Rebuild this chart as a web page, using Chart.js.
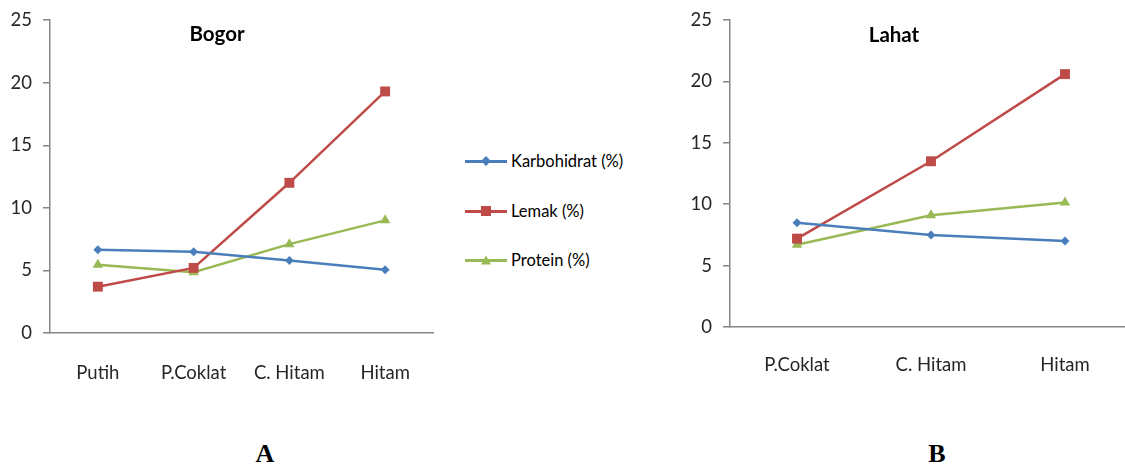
<!DOCTYPE html>
<html lang="en">
<head>
  <meta charset="UTF-8">
  <title>Bogor / Lahat</title>
  <script src="https://cdn.jsdelivr.net/npm/chart.js"></script>
  <style>
body {
  margin: 0;
  width: 1125px;
  height: 466px;
  overflow: hidden;
  background: #ffffff;
  position: relative;
  font-family: 'Lato', sans-serif;
}
.box { position: absolute; }
.title {
  position: absolute;
  font-weight: bold;
  font-size: 20.5px;
  color: #000;
  transform: translate(-50%, -50%);
}
.tag {
  position: absolute;
  font-family: 'Liberation Serif', serif;
  font-weight: bold;
  font-size: 26px;
  transform: translateX(-50%);
}
#legend { position: absolute; left: 465px; top: 0; }
.item {
  position: absolute;
  left: 0;
  display: flex;
  align-items: center;
  white-space: nowrap;
  font-size: 16.5px;
  color: #000;
  transform: translateY(-50%);
}
.swatch { position: relative; width: 42px; height: 12px; margin-right: 4px; }
.swatch .ln { position: absolute; left: 0; right: 0; top: 5px; height: 2.5px; }
.swatch .mk { position: absolute; left: 50%; top: 50%; transform: translate(-50%, -50%); }
  </style>
</head>
<body>
  <div class="box" style="left:0;top:-2px;width:440px;height:392px;"><canvas id="bogor"></canvas></div>
  <div class="box" style="left:680px;top:-2px;width:459px;height:382px;"><canvas id="lahat"></canvas></div>
  <div class="title" style="left:217px;top:33px;">Bogor</div>
  <div class="title" style="left:894px;top:34px;">Lahat</div>
  <div id="legend"></div>
  <div class="tag" style="left:265px;top:439px;">A</div>
  <div class="tag" style="left:937px;top:439px;">B</div>

  <script>
    // Data
    const seriesNames = ['Karbohidrat (%)', 'Lemak (%)', 'Protein (%)'];
    const seriesColors = ['#4A7EBB', '#BE4B48', '#98B954'];
    const seriesMarkers = ['rectRot', 'rect', 'triangle'];
    const markerRadius = [4.5, 7, 6];

    const catsBogor = ['Putih', 'P.Coklat', 'C. Hitam', 'Hitam'];
    const karboBogor = [6.65, 6.5, 5.8, 5.05];
    const lemakBogor = [3.7, 5.2, 12.0, 19.3];
    const proteinBogor = [5.45, 4.85, 7.1, 9.0];

    const catsLahat = ['P.Coklat', 'C. Hitam', 'Hitam'];
    const karboLahat = [8.5, 7.5, 7.0];
    const lemakLahat = [7.2, 13.5, 20.6];
    const proteinLahat = [6.7, 9.1, 10.15];

    const yMin = 0, yMax = 25, yStep = 5;

    const axisGray = '#868686';
    const textGray = '#262626';

    function makeDatasets(values) {
      return values.map((data, i) => ({
        label: seriesNames[i],
        data: data,
        borderColor: seriesColors[i],
        backgroundColor: seriesColors[i],
        borderWidth: 2.5,
        pointStyle: seriesMarkers[i],
        pointRadius: markerRadius[i],
        pointBorderWidth: 0,
        tension: 0
      }));
    }

    function makeChart(id, labels, values, yAxisWidth, xAxisHeight, padTop, xPad) {
      return new Chart(document.getElementById(id), {
        type: 'line',
        data: { labels: labels, datasets: makeDatasets(values) },
        options: {
          responsive: true,
          maintainAspectRatio: false,
          animation: false,
          layout: { padding: { top: padTop, right: 4, left: 0, bottom: 0 } },
          plugins: { legend: { display: false }, tooltip: { enabled: false } },
          scales: {
            x: {
              offset: true,
              grid: { display: false },
              border: { display: true, color: axisGray, width: 1.5 },
              ticks: { color: textGray, font: { family: 'Lato', size: 18.5 }, padding: xPad, maxRotation: 0 },
              afterFit: s => { s.height = xAxisHeight; }
            },
            y: {
              min: yMin,
              max: yMax,
              ticks: { stepSize: yStep, color: textGray, font: { family: 'Lato', size: 18.5 }, padding: 11 },
              grid: { display: true, drawOnChartArea: false, drawTicks: true, tickLength: 7, color: axisGray, lineWidth: 1.5 },
              border: { display: true, color: axisGray, width: 1.5 },
              afterFit: s => { s.width = yAxisWidth; }
            }
          }
        }
      });
    }

    makeChart('bogor', catsBogor, [karboBogor, lemakBogor, proteinBogor], 50, 57, 16, 21);
    makeChart('lahat', catsLahat, [karboLahat, lemakLahat, proteinLahat], 50, 53, 17, 19);

    // Shared legend between the two charts
    const legendRows = [161, 211, 260];
    const legend = document.getElementById('legend');
    seriesNames.forEach((name, i) => {
      const item = document.createElement('div');
      item.className = 'item';
      item.style.top = legendRows[i] + 'px';
      const sw = document.createElement('div');
      sw.className = 'swatch';
      const ln = document.createElement('div');
      ln.className = 'ln';
      ln.style.background = seriesColors[i];
      const mk = document.createElement('div');
      mk.className = 'mk';
      if (seriesMarkers[i] === 'rectRot') {
        mk.style.width = '7px'; mk.style.height = '7px';
        mk.style.background = seriesColors[i];
        mk.style.transform = 'translate(-50%, -50%) rotate(45deg)';
      } else if (seriesMarkers[i] === 'rect') {
        mk.style.width = '10px'; mk.style.height = '10px';
        mk.style.background = seriesColors[i];
      } else {
        mk.style.width = '0'; mk.style.height = '0';
        mk.style.borderLeft = '5px solid transparent';
        mk.style.borderRight = '5px solid transparent';
        mk.style.borderBottom = '9px solid ' + seriesColors[i];
      }
      sw.appendChild(ln);
      sw.appendChild(mk);
      const tx = document.createElement('span');
      tx.textContent = name;
      item.appendChild(sw);
      item.appendChild(tx);
      legend.appendChild(item);
    });
  </script>
</body>
</html>
